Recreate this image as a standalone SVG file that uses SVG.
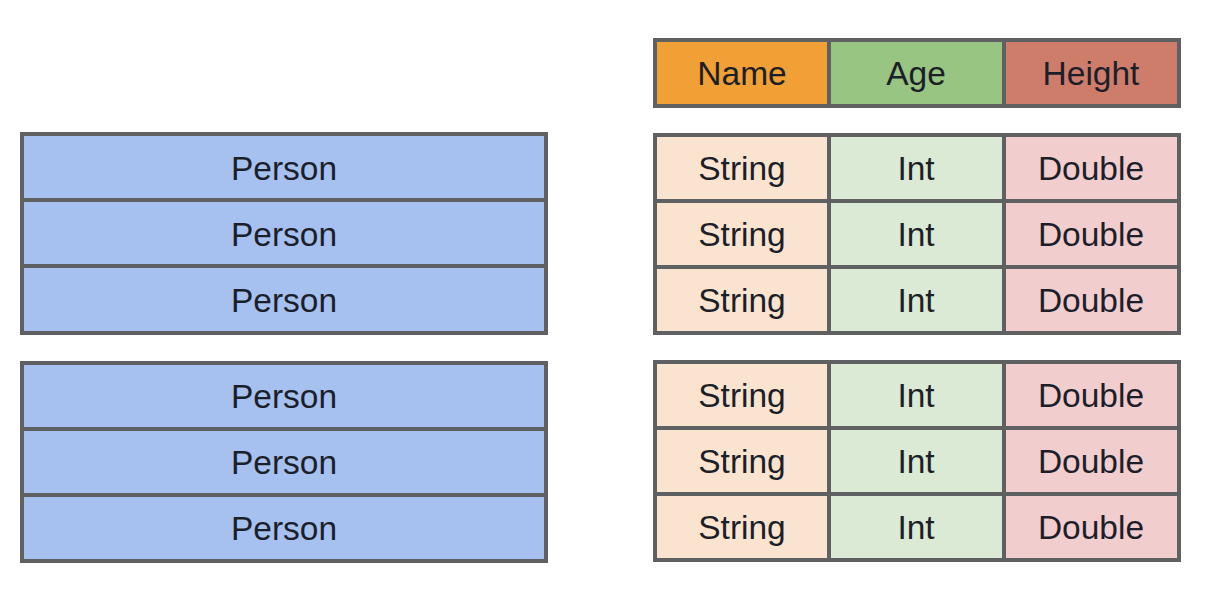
<svg xmlns="http://www.w3.org/2000/svg" width="1232" height="596" viewBox="0 0 1232 596">
  <style>
    .cell { stroke: #5f6061; stroke-width: 4; }
    .person { fill: #a6c1f0; }
    .hname { fill: #f0a035; }
    .hage { fill: #98c582; }
    .hheight { fill: #cf7d6b; }
    .str { fill: #fbe4cf; }
    .int { fill: #dbead4; }
    .dbl { fill: #f2cdcd; }
    text { font-family: "Liberation Sans", Arial, sans-serif; font-size: 33.5px; fill: #1c1f2a; text-anchor: middle; dominant-baseline: central; }
  </style>
  <rect width="1232" height="596" fill="#ffffff"/>

  <!-- Row-oriented layout: one record per row -->
  <g id="rows-block-1">
    <g id="person-1"><rect class="cell person" x="22" y="134" width="524" height="66"/><text x="284" y="168">Person</text></g>
    <g id="person-2"><rect class="cell person" x="22" y="200" width="524" height="66"/><text x="284" y="234">Person</text></g>
    <g id="person-3"><rect class="cell person" x="22" y="266" width="524" height="67"/><text x="284" y="300">Person</text></g>
  </g>
  <g id="rows-block-2">
    <g id="person-4"><rect class="cell person" x="22" y="363" width="524" height="66"/><text x="284" y="396">Person</text></g>
    <g id="person-5"><rect class="cell person" x="22" y="429" width="524" height="66"/><text x="284" y="462">Person</text></g>
    <g id="person-6"><rect class="cell person" x="22" y="495" width="524" height="66"/><text x="284" y="528">Person</text></g>
  </g>

  <!-- Column schema header -->
  <g id="header">
    <g id="h-name"><rect class="cell hname" x="655" y="40" width="174" height="66"/><text x="742" y="73">Name</text></g>
    <g id="h-age"><rect class="cell hage" x="829" y="40" width="175" height="66"/><text x="916" y="73">Age</text></g>
    <g id="h-height"><rect class="cell hheight" x="1004" y="40" width="175" height="66"/><text x="1091" y="73">Height</text></g>
  </g>

  <!-- Typed columns, first block -->
  <g id="cols-block-1">
    <g id="r1"><rect class="cell str" x="655" y="135" width="174" height="66"/><text x="742" y="168">String</text>
      <rect class="cell int" x="829" y="135" width="175" height="66"/><text x="916" y="168">Int</text>
      <rect class="cell dbl" x="1004" y="135" width="175" height="66"/><text x="1091" y="168">Double</text></g>
    <g id="r2"><rect class="cell str" x="655" y="201" width="174" height="66"/><text x="742" y="234">String</text>
      <rect class="cell int" x="829" y="201" width="175" height="66"/><text x="916" y="234">Int</text>
      <rect class="cell dbl" x="1004" y="201" width="175" height="66"/><text x="1091" y="234">Double</text></g>
    <g id="r3"><rect class="cell str" x="655" y="267" width="174" height="66"/><text x="742" y="300">String</text>
      <rect class="cell int" x="829" y="267" width="175" height="66"/><text x="916" y="300">Int</text>
      <rect class="cell dbl" x="1004" y="267" width="175" height="66"/><text x="1091" y="300">Double</text></g>
  </g>

  <!-- Typed columns, second block -->
  <g id="cols-block-2">
    <g id="r4"><rect class="cell str" x="655" y="362" width="174" height="66"/><text x="742" y="395">String</text>
      <rect class="cell int" x="829" y="362" width="175" height="66"/><text x="916" y="395">Int</text>
      <rect class="cell dbl" x="1004" y="362" width="175" height="66"/><text x="1091" y="395">Double</text></g>
    <g id="r5"><rect class="cell str" x="655" y="428" width="174" height="66"/><text x="742" y="461">String</text>
      <rect class="cell int" x="829" y="428" width="175" height="66"/><text x="916" y="461">Int</text>
      <rect class="cell dbl" x="1004" y="428" width="175" height="66"/><text x="1091" y="461">Double</text></g>
    <g id="r6"><rect class="cell str" x="655" y="494" width="174" height="66"/><text x="742" y="527">String</text>
      <rect class="cell int" x="829" y="494" width="175" height="66"/><text x="916" y="527">Int</text>
      <rect class="cell dbl" x="1004" y="494" width="175" height="66"/><text x="1091" y="527">Double</text></g>
  </g>

  <g id="connectors"/>
</svg>
